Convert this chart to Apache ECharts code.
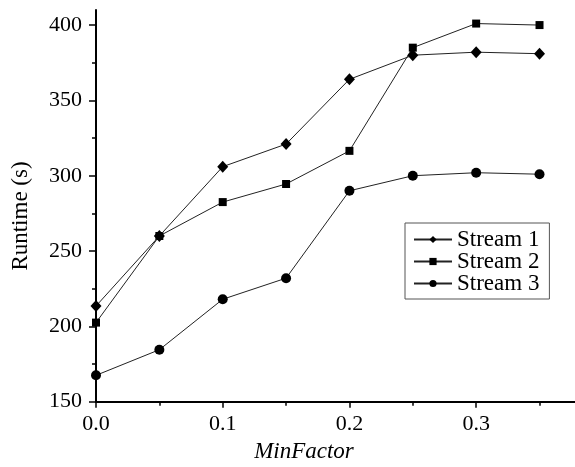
<!DOCTYPE html>
<html>
<head>
<meta charset="utf-8">
<script src="https://cdn.jsdelivr.net/npm/echarts@6/dist/echarts.min.js"></script>
<style>
  html, body { margin: 0; padding: 0; background: #fff; }
  #chart { width: 575px; height: 467px; }
</style>
</head>
<body>
<div id="chart"></div>
<script>
// MinFactor values sampled on the x axis
const minFactor = [0, 0.05, 0.1, 0.15, 0.2, 0.25, 0.3, 0.35];

// Runtime in seconds for each stream
const stream1 = [213.5, 260, 306, 321, 364, 380, 382, 381];
const stream2 = [202.5, 260, 282.5, 294.5, 316.5, 385, 401, 400];
const stream3 = [167.5, 184.5, 218, 232, 290, 300, 302, 301];

const seriesNames = ['Stream 1', 'Stream 2', 'Stream 3'];

// Tick positions
const xMajorTicks = [0, 0.1, 0.2, 0.3];
const xMinorTicks = [0.05, 0.15, 0.25, 0.35];
const yMajorTicks = [150, 200, 250, 300, 350, 400];
const yMinorTicks = [175, 225, 275, 325, 375];

const FONT = 'Liberation Serif';
const pairs = (ys) => minFactor.map((x, i) => [x, ys[i]]);

const chart = echarts.init(document.getElementById('chart'), null, { renderer: 'canvas' });

const xRange = { min: 0, max: 0.378 };
const yRange = { min: 150, max: 410 };

chart.setOption({
  animation: false,
  backgroundColor: '#fff',
  grid: { left: 96, right: 0, top: 10, bottom: 65.3, containLabel: false },
  xAxis: [
    {
      type: 'value', ...xRange,
      splitLine: { show: false },
      axisLine: { show: true, lineStyle: { color: '#000', width: 2 } },
      axisTick: { show: true, length: 6, customValues: xMajorTicks, lineStyle: { color: '#000', width: 1.5 } },
      axisLabel: {
        customValues: xMajorTicks, margin: 12,
        fontFamily: FONT, fontSize: 22, color: '#000',
        formatter: (v) => v.toFixed(1)
      }
    },
    {
      type: 'value', ...xRange, position: 'bottom',
      splitLine: { show: false },
      axisLine: { show: false },
      axisTick: { show: true, length: 4, customValues: xMinorTicks, lineStyle: { color: '#000', width: 1.5 } },
      axisLabel: { show: false }
    }
  ],
  yAxis: [
    {
      type: 'value', ...yRange,
      splitLine: { show: false },
      axisLine: { show: true, lineStyle: { color: '#000', width: 2 } },
      axisTick: { show: true, length: 7, customValues: yMajorTicks, lineStyle: { color: '#000', width: 1.5 } },
      axisLabel: {
        customValues: yMajorTicks, margin: 14,
        fontFamily: FONT, fontSize: 22, color: '#000'
      }
    },
    {
      type: 'value', ...yRange, position: 'left',
      splitLine: { show: false },
      axisLine: { show: false },
      axisTick: { show: true, length: 4, customValues: yMinorTicks, lineStyle: { color: '#000', width: 1.5 } },
      axisLabel: { show: false }
    }
  ],
  legend: {
    orient: 'vertical',
    left: 405, top: 223,
    padding: [5, 10, 4, 8],
    itemGap: -1,
    itemWidth: 38,
    itemHeight: 9,
    borderColor: '#555',
    borderWidth: 1,
    backgroundColor: '#fff',
    textStyle: { fontFamily: FONT, fontSize: 23, color: '#000', lineHeight: 21 },
    data: seriesNames
  },
  series: [
    {
      name: seriesNames[0], type: 'line', data: pairs(stream1), z: 5, clip: false,
      symbol: 'diamond', symbolSize: [11, 12],
      itemStyle: { color: '#000' },
      lineStyle: { color: '#222', width: 1 }
    },
    {
      name: seriesNames[1], type: 'line', data: pairs(stream2), z: 4, clip: false,
      symbol: 'rect', symbolSize: 8,
      itemStyle: { color: '#000' },
      lineStyle: { color: '#222', width: 1 }
    },
    {
      name: seriesNames[2], type: 'line', data: pairs(stream3), z: 3, clip: false,
      symbol: 'circle', symbolSize: 10,
      itemStyle: { color: '#000' },
      lineStyle: { color: '#222', width: 1 }
    }
  ],
  graphic: [
    {
      type: 'text', x: 304, y: 452,
      style: {
        text: 'MinFactor', fontFamily: FONT, fontSize: 23, fontStyle: 'italic',
        fill: '#000', align: 'center', verticalAlign: 'middle'
      }
    },
    {
      type: 'text', x: 21, y: 216, rotation: Math.PI / 2,
      style: {
        text: 'Runtime (s)', fontFamily: FONT, fontSize: 23,
        fill: '#000', align: 'center', verticalAlign: 'middle'
      }
    }
  ]
});
</script>
</body>
</html>
